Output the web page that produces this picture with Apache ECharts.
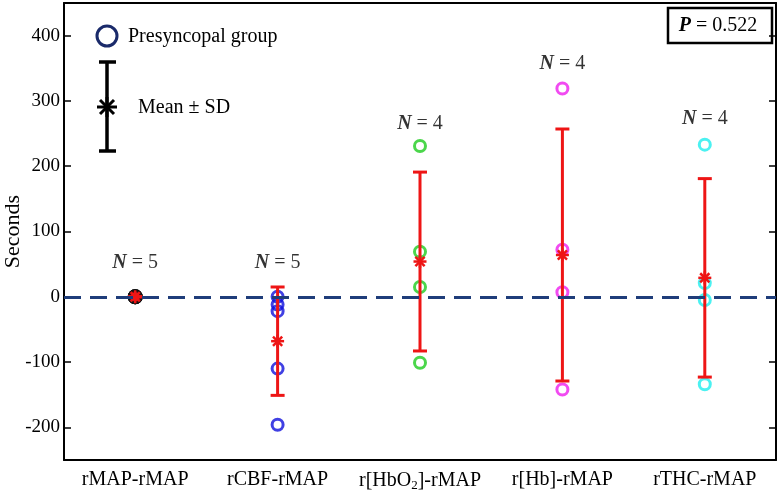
<!DOCTYPE html>
<html><head><meta charset="utf-8">
<script src="https://cdn.jsdelivr.net/npm/echarts@6/dist/echarts.min.js"></script>
<style>html,body{margin:0;padding:0;background:#fff}#c{width:780px;height:494px}</style>
</head><body><div id="c"></div>
<script>
const categories = ['rMAP-rMAP', 'rCBF-rMAP', 'r[HbO2]-rMAP', 'r[Hb]-rMAP', 'rTHC-rMAP'];
const pointValues = [
  [0, 0, 0, 0, 0],
  [0, -12, -22, -110, -196],
  [231, 69, 15, -101],
  [319, 72, 7, -142],
  [233, 21, -5, -134]
];
const pointColors = ['#111111', '#1010dc', '#1ecc1e', '#ee1eee', '#1eeeee'];
const means = [0, -68, 54, 64, 29];
const sds = [0, 83, 137, 193, 152];
const nLabels = ['N = 5', 'N = 5', 'N = 4', 'N = 4', 'N = 4'];
const nLabelY = [52, 52, 265, 357, 273];
const yTicks = [-200, -100, 0, 100, 200, 300, 400];
const pValue = '0.522';

const FONT = 'Liberation Serif';
const chart = echarts.init(document.getElementById('c'), null, {renderer: 'canvas'});

function catLabel(v) {
  if (v.indexOf('HbO2') >= 0) return 'r[HbO{sub|2}]-rMAP';
  return v;
}

const series = [];
pointValues.forEach((vals, i) => {
  series.push({
    type: 'scatter',
    xAxisIndex: 0, yAxisIndex: 0,
    symbol: 'circle',
    symbolSize: i === 0 ? 12 : 11,
    z: 2,
    itemStyle: {
      color: i === 0 ? '#e81818' : 'rgba(0,0,0,0)',
      borderColor: pointColors[i],
      borderWidth: 3
    },
    data: vals.map(v => [i, v])
  });
});

series.push({
  type: 'custom',
  z: 3,
  data: means.map((m, i) => [i, m, sds[i]]),
  encode: {x: 0, y: 1},
  renderItem: function (params, api) {
    const i = api.value(0), m = api.value(1), s = api.value(2);
    const top = api.coord([i, m + s]);
    const bot = api.coord([i, m - s]);
    const mid = api.coord([i, m]);
    const st = {stroke: '#ee1515', lineWidth: 3};
    const cw = 7;
    const r = 6.5;
    const ast = {stroke: '#ee1515', lineWidth: 2.5};
    const d = r * 0.707;
    return {
      type: 'group',
      children: [
        {type: 'line', shape: {x1: top[0], y1: top[1], x2: bot[0], y2: bot[1]}, style: st},
        {type: 'line', shape: {x1: top[0] - cw, y1: top[1], x2: top[0] + cw, y2: top[1]}, style: st},
        {type: 'line', shape: {x1: bot[0] - cw, y1: bot[1], x2: bot[0] + cw, y2: bot[1]}, style: st},
        {type: 'line', shape: {x1: mid[0] - r, y1: mid[1], x2: mid[0] + r, y2: mid[1]}, style: ast},
        {type: 'line', shape: {x1: mid[0], y1: mid[1] - r, x2: mid[0], y2: mid[1] + r}, style: ast},
        {type: 'line', shape: {x1: mid[0] - d, y1: mid[1] - d, x2: mid[0] + d, y2: mid[1] + d}, style: ast},
        {type: 'line', shape: {x1: mid[0] - d, y1: mid[1] + d, x2: mid[0] + d, y2: mid[1] - d}, style: ast}
      ]
    };
  }
});

series.push({
  type: 'scatter',
  symbol: 'circle',
  symbolSize: 1,
  itemStyle: {color: 'rgba(0,0,0,0)'},
  z: 4,
  data: nLabelY.map((y, i) => [i, y]),
  label: {
    show: true,
    position: 'inside',
    formatter: p => '{i|N}{n| = ' + nLabels[p.dataIndex].split('= ')[1] + '}',
    rich: {
      i: {fontFamily: FONT, fontSize: 20, fontStyle: 'italic', fontWeight: 'bold', color: '#000'},
      n: {fontFamily: FONT, fontSize: 20, color: '#000'}
    }
  },
  markLine: {
    silent: true,
    symbol: 'none',
    label: {show: false},
    lineStyle: {color: '#1f3d7a', width: 3, type: [17, 9]},
    data: [{yAxis: 0}]
  }
});

const axisFont = {fontFamily: FONT, fontSize: 19, color: '#000'};
chart.setOption({
  animation: false,
  grid: {left: 64, right: 4, top: 3, bottom: 34, containLabel: false, outerBoundsMode: 'none'},
  xAxis: [{
    type: 'category', data: categories, boundaryGap: true, position: 'bottom',
    axisLine: {onZero: false, lineStyle: {color: '#000', width: 2}},
    axisTick: {alignWithLabel: true, inside: true, length: 7, lineStyle: {color: '#000', width: 1.5}},
    axisLabel: Object.assign({}, axisFont, {
      fontSize: 20,
      interval: 0,
      margin: 10,
      formatter: catLabel,
      rich: {sub: {fontFamily: FONT, fontSize: 13, color: '#000', padding: [9, 0, 0, 0]}}
    }),
    splitLine: {show: false}
  }, {
    type: 'category', data: categories, boundaryGap: true, position: 'top',
    axisLine: {onZero: false, lineStyle: {color: '#000', width: 2}},
    axisTick: {alignWithLabel: true, inside: true, length: 7, lineStyle: {color: '#000', width: 1.5}},
    axisLabel: {show: false}
  }],
  yAxis: [{
    type: 'value', min: -250, max: 450,
    name: 'Seconds', nameLocation: 'middle', nameGap: 40, nameRotate: 90, nameMoveOverlap: false,
    nameTextStyle: {fontFamily: FONT, fontSize: 22, color: '#000'},
    axisLine: {show: true, onZero: false, lineStyle: {color: '#000', width: 2}},
    axisTick: {show: true, inside: true, length: 7, lineStyle: {color: '#000', width: 1.5}, customValues: yTicks},
    axisLabel: Object.assign({}, axisFont, {margin: 4, customValues: yTicks}),
    splitLine: {show: false}
  }, {
    type: 'value', min: -250, max: 450, position: 'right',
    axisLine: {show: true, onZero: false, lineStyle: {color: '#000', width: 2}},
    axisTick: {show: true, inside: true, length: 7, lineStyle: {color: '#000', width: 1.5}, customValues: yTicks},
    axisLabel: {show: false},
    splitLine: {show: false}
  }],
  graphic: [
    {type: 'circle', shape: {cx: 107, cy: 36, r: 10}, style: {fill: 'none', stroke: '#1a2a6a', lineWidth: 3}},
    {type: 'text', x: 128, y: 37, style: {text: 'Presyncopal group', font: '20px "Liberation Serif"', fill: '#000', textVerticalAlign: 'middle'}},
    {type: 'group', children: [
      {type: 'line', shape: {x1: 107, y1: 62, x2: 107, y2: 151}, style: {stroke: '#000', lineWidth: 3.5}},
      {type: 'line', shape: {x1: 99, y1: 62, x2: 116, y2: 62}, style: {stroke: '#000', lineWidth: 3.5}},
      {type: 'line', shape: {x1: 99, y1: 151, x2: 116, y2: 151}, style: {stroke: '#000', lineWidth: 3.5}},
      {type: 'line', shape: {x1: 97, y1: 107, x2: 117, y2: 107}, style: {stroke: '#000', lineWidth: 3}},
      {type: 'line', shape: {x1: 107, y1: 97, x2: 107, y2: 117}, style: {stroke: '#000', lineWidth: 3}},
      {type: 'line', shape: {x1: 100, y1: 100, x2: 114, y2: 114}, style: {stroke: '#000', lineWidth: 3}},
      {type: 'line', shape: {x1: 100, y1: 114, x2: 114, y2: 100}, style: {stroke: '#000', lineWidth: 3}}
    ]},
    {type: 'text', x: 138, y: 108, style: {text: 'Mean \u00b1 SD', font: '20px "Liberation Serif"', fill: '#000', textVerticalAlign: 'middle'}},
    {type: 'rect', shape: {x: 668, y: 8, width: 104, height: 35}, style: {fill: '#fff', stroke: '#000', lineWidth: 2.5}},
    {type: 'text', x: 718, y: 26, style: {
      rich: {
        i: {font: 'italic bold 20px "Liberation Serif"', fill: '#000'},
        n: {font: '20px "Liberation Serif"', fill: '#000'}
      },
      text: '{i|P}{n| = ' + pValue + '}', textAlign: 'center', textVerticalAlign: 'middle'
    }}
  ],
  series: series
});
</script>
</body></html>
